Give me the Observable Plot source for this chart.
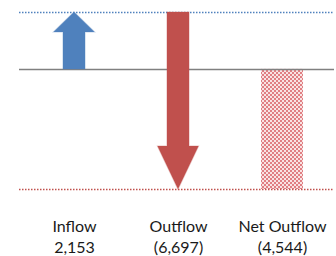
<!DOCTYPE html>
<html><head><meta charset="utf-8">
<script src="https://cdn.jsdelivr.net/npm/d3@7"></script>
<script src="https://cdn.jsdelivr.net/npm/@observablehq/plot@0.6"></script>
<style>
html,body{margin:0;padding:0;background:#fff;}
svg{display:block;}
</style></head>
<body><div id="chart"></div>
<script>
const categories = ["Inflow", "Outflow", "Net Outflow"];
const values = [2153, -6697, -4544];
const kinds = ["arrow", "arrow", "bar"];

// waterfall: outflow starts where inflow ends; net starts at zero
const starts = [0, values[0], 0];
const rows = categories.map((c, i) => ({
  cat: c, value: values[i], kind: kinds[i],
  y1: starts[i], y2: starts[i] + values[i]
}));
const fmt = v => v < 0 ? `(${d3.format(",")(-v)})` : d3.format(",")(v);
const topLevel = values[0];
const bottomLevel = values[0] + values[1];

const blue = "#4f81bd", red = "#c0504d";

function patternDefs() {
  const g = d3.create("svg:g");
  const p = g.append("defs").append("pattern")
    .attr("id", "netpat").attr("patternUnits", "userSpaceOnUse")
    .attr("width", 4).attr("height", 4);
  p.append("rect").attr("width", 4).attr("height", 4).attr("fill", "#f9e3e3");
  p.append("rect").attr("x", 0).attr("y", 0).attr("width", 2).attr("height", 2).attr("fill", "#e07f83");
  p.append("rect").attr("x", 2).attr("y", 2).attr("width", 2).attr("height", 2).attr("fill", "#e07f83");
  return g.node();
}

function arrows(index, scales) {
  const x = scales.x, y = scales.y;
  const bw = x.bandwidth ? x.bandwidth() : 0;
  const g = d3.create("svg:g");
  rows.filter(r => r.kind === "arrow").forEach(r => {
    const cx = x(r.cat) + bw / 2;
    const ya = y(r.y1), yb = y(r.y2);
    const dir = yb < ya ? -1 : 1;
    const len = Math.abs(yb - ya);
    const head = Math.min(43, len * 0.35);
    const sw = 11, hw = 20.5;
    const yh = yb - dir * head;
    const pts = [
      [cx - sw, ya], [cx - sw, yh], [cx - hw, yh], [cx, yb],
      [cx + hw, yh], [cx + sw, yh], [cx + sw, ya]
    ];
    const col = r.value >= 0 ? blue : red;
    g.append("path")
      .attr("d", "M" + pts.map(p => p.join(",")).join("L") + "Z")
      .attr("fill", col)
      .attr("stroke", col).attr("stroke-opacity", 0.35).attr("stroke-width", 1.2);
  });
  return g.node();
}

const chart = Plot.plot({
  width: 336,
  height: 256,
  marginLeft: 19,
  marginRight: 2,
  marginTop: 12,
  marginBottom: 67,
  style: {fontFamily: "Lato, sans-serif", background: "#fff"},
  x: {domain: categories, range: [21, 334], padding: 0, axis: null},
  y: {domain: [bottomLevel, topLevel], range: [189, 12], axis: null},
  marks: [
    patternDefs,
    Plot.barY(rows.filter(r => r.kind === "bar"), {
      x: "cat", y1: "y1", y2: "y2", fill: "url(#netpat)", insetLeft: 31, insetRight: 31
    }),
    Plot.ruleY([topLevel], {stroke: blue, strokeWidth: 1.5, strokeDasharray: "1.5,1.5"}),
    Plot.ruleY([bottomLevel], {stroke: red, strokeWidth: 1.5, strokeDasharray: "1.5,1.5"}),
    Plot.ruleY([0], {stroke: "#808080", strokeWidth: 1.5}),
    arrows,
    Plot.text(rows, {x: "cat", text: "cat", frameAnchor: "bottom", lineAnchor: "middle", dy: 37, fontSize: 16, fill: "#1a1a1a"}),
    Plot.text(rows, {x: "cat", text: d => fmt(d.value), frameAnchor: "bottom", lineAnchor: "middle", dy: 58, fontSize: 16, fill: "#1a1a1a"})
  ]
});
document.getElementById("chart").appendChild(chart);
</script>
</body></html>
